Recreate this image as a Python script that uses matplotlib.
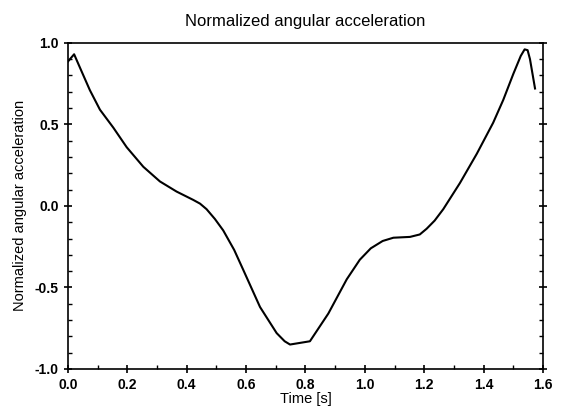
import matplotlib.pyplot as plt
from matplotlib.ticker import MultipleLocator

plt.rcParams['font.family'] = ['Liberation Sans', 'DejaVu Sans']
plt.rcParams['axes.unicode_minus'] = False

# values
time = [0.0, 0.021, 0.045, 0.074, 0.108, 0.153, 0.198, 0.254, 0.31, 0.366,
        0.422, 0.445, 0.467, 0.495, 0.523, 0.56, 0.59, 0.647, 0.703, 0.73,
        0.748, 0.815, 0.877, 0.939, 0.983, 1.02, 1.06, 1.096, 1.152, 1.185,
        1.208, 1.235, 1.264, 1.32, 1.377, 1.432, 1.466, 1.50, 1.525, 1.538,
        1.548, 1.556, 1.573]
accel = [0.885, 0.93, 0.83, 0.71, 0.59, 0.48, 0.36, 0.24, 0.15, 0.088,
         0.037, 0.014, -0.02, -0.08, -0.15, -0.27, -0.39, -0.62, -0.78, -0.83,
         -0.85, -0.83, -0.66, -0.45, -0.33, -0.26, -0.215, -0.195, -0.19, -0.175,
         -0.14, -0.09, -0.02, 0.14, 0.32, 0.51, 0.65, 0.81, 0.92, 0.96,
         0.955, 0.90, 0.72]

fig = plt.figure(figsize=(5.61, 4.16), dpi=100)
ax = fig.add_axes([0.121, 0.113, 0.847, 0.784])
ax.plot(time, accel, color='black', linewidth=1.5)

ax.set_xlim(0, 1.6)
ax.set_ylim(-1.0, 1.0)
ax.xaxis.set_major_locator(MultipleLocator(0.2))
ax.xaxis.set_minor_locator(MultipleLocator(0.1))
ax.yaxis.set_major_locator(MultipleLocator(0.5))
ax.yaxis.set_minor_locator(MultipleLocator(0.1))
ax.tick_params(which='major', direction='inout', length=6, width=1.2,
               right=True, labelsize=10)
ax.tick_params(which='minor', direction='in', length=3, width=1, right=True)
for lab in ax.get_xticklabels() + ax.get_yticklabels():
    lab.set_fontweight('bold')
for s in ax.spines.values():
    s.set_linewidth(1.2)

ax.set_title('Normalized angular acceleration', fontsize=12, pad=12)
ax.set_xlabel('Time [s]', fontsize=10.5, labelpad=0)
ax.set_ylabel('Normalized angular acceleration', fontsize=10.5, labelpad=6)

fig.savefig('out.png', dpi=100)
